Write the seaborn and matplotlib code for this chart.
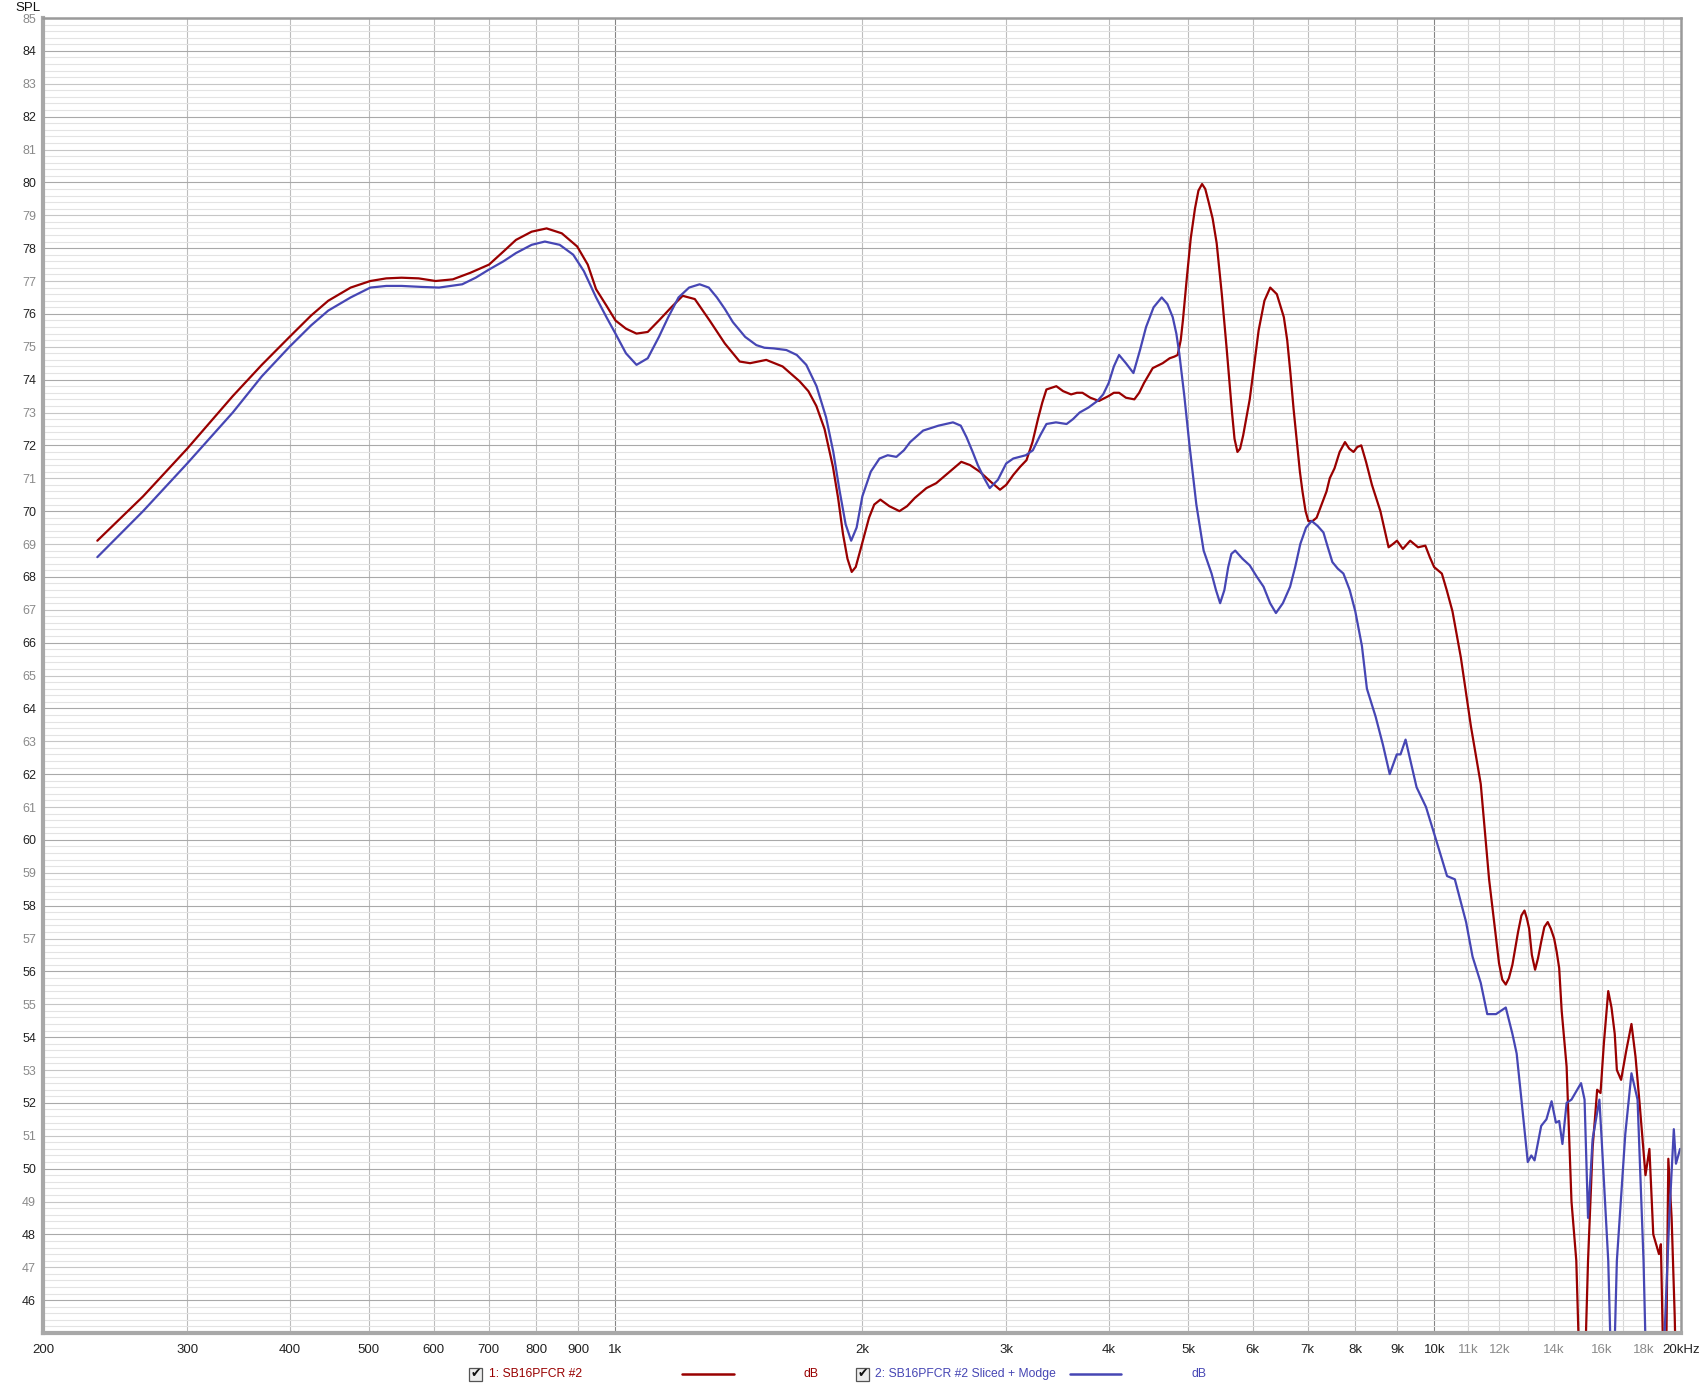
import numpy as np
import pandas as pd
import matplotlib
matplotlib.use('Agg')
import matplotlib.pyplot as plt
import seaborn as sns
from matplotlib.patches import Rectangle
from matplotlib.lines import Line2D

sns.set_style('white')
plt.rcParams['font.family'] = ['Liberation Sans', 'DejaVu Sans']

# 1: SB16PFCR #2  (red)
red_freq = [233, 265, 300, 341, 370, 400, 425, 446, 475, 502, 525, 548, 575, 603, 633, 665,
            701, 730, 756, 790, 824, 860, 898, 925, 947, 975, 1000, 1030, 1061, 1095, 1130,
            1170, 1208, 1250, 1303, 1360, 1418, 1460, 1528, 1600, 1678, 1720, 1759, 1800,
            1843, 1870, 1896, 1920, 1943, 1965, 1990, 2040, 2070, 2106, 2160, 2222, 2270,
            2320, 2397, 2464, 2560, 2644, 2710, 2785, 2870, 2948, 3000, 3060, 3120, 3176,
            3230, 3280, 3320, 3359, 3454, 3520, 3600, 3660, 3717, 3800, 3893, 4000, 4060,
            4120, 4200, 4301, 4360, 4420, 4529, 4658, 4750, 4813, 4858, 4900, 4930, 4985,
            5040, 5100, 5150, 5203, 5250, 5300, 5360, 5421, 5500, 5573, 5660, 5700, 5747,
            5790, 5840, 5890, 5949, 6020, 6100, 6200, 6302, 6420, 6548, 6610, 6670, 6730,
            6792, 6850, 6900, 6960, 7015, 7100, 7180, 7280, 7383, 7450, 7550, 7660, 7776,
            7870, 7965, 8050, 8140, 8250, 8388, 8590, 8700, 8790, 8900, 9000, 9150, 9340,
            9549, 9747, 9870, 9990, 10210, 10350, 10520, 10770, 11080, 11390, 11660, 11990,
            12100, 12220, 12330, 12450, 12650, 12770, 12880, 12970, 13050, 13150, 13270,
            13380, 13500, 13620, 13750, 13870, 14000, 14100, 14200, 14300, 14500, 14700,
            14900, 15050, 15250, 15400, 15600, 15700, 15800, 15950, 16100, 16300, 16450,
            16600, 16700, 16900, 17150, 17400, 17600, 17800, 18100, 18300, 18500, 18800,
            18900, 19050, 19200, 19300, 19480, 19650, 19750]
red_spl = [69.1, 70.45, 71.9, 73.5, 74.45, 75.3, 75.95, 76.4, 76.8, 77.0, 77.08, 77.1, 77.08,
           77.0, 77.05, 77.25, 77.5, 77.9, 78.25, 78.5, 78.6, 78.45, 78.05, 77.5, 76.75,
           76.25, 75.8, 75.55, 75.4, 75.45, 75.8, 76.2, 76.55, 76.45, 75.8, 75.1, 74.55,
           74.5, 74.6, 74.4, 73.95, 73.65, 73.2, 72.5, 71.35, 70.4, 69.3, 68.55, 68.15,
           68.3, 68.8, 69.8, 70.2, 70.35, 70.15, 70.0, 70.15, 70.4, 70.7, 70.85, 71.2, 71.5,
           71.4, 71.2, 70.9, 70.65, 70.8, 71.1, 71.35, 71.55, 72.1, 72.8, 73.3, 73.7, 73.8,
           73.65, 73.55, 73.6, 73.6, 73.45, 73.35, 73.5, 73.6, 73.6, 73.45, 73.4, 73.6,
           73.9, 74.35, 74.5, 74.65, 74.7, 74.75, 75.2, 75.8, 77.1, 78.3, 79.2, 79.75,
           79.95, 79.8, 79.4, 78.9, 78.15, 76.6, 75.0, 73.0, 72.2, 71.8, 71.9, 72.3, 72.8,
           73.4, 74.4, 75.5, 76.4, 76.8, 76.6, 75.9, 75.2, 74.2, 73.1, 72.1, 71.2, 70.6,
           70.0, 69.7, 69.7, 69.8, 70.2, 70.6, 71.0, 71.3, 71.8, 72.1, 71.9, 71.8, 71.95,
           72.0, 71.5, 70.8, 70.0, 69.4, 68.9, 69.0, 69.1, 68.85, 69.1, 68.9, 68.95, 68.6,
           68.3, 68.1, 67.6, 66.95, 65.55, 63.45, 61.7, 58.8, 56.25, 55.75, 55.6, 55.8,
           56.2, 57.2, 57.7, 57.85, 57.6, 57.3, 56.5, 56.05, 56.4, 56.9, 57.35, 57.5, 57.3,
           57.0, 56.6, 56.1, 54.8, 53.1, 49.0, 47.2, 43.5, 43.5, 47.2, 50.65, 51.5, 52.4,
           52.3, 53.8, 55.4, 54.9, 54.1, 53.0, 52.7, 53.6, 54.4, 53.4, 52.0, 49.8, 50.6,
           48.0, 47.4, 47.7, 43.5, 45.0, 50.3, 48.5, 45.5, 43.0]

# 2: SB16PFCR #2 Sliced + Modge  (blue)
blue_freq = [233, 265, 300, 341, 370, 400, 425, 446, 475, 502, 525, 548, 580, 609, 650, 675,
             701, 730, 756, 790, 820, 855, 888, 915, 947, 975, 1000, 1030, 1061, 1095, 1130,
             1160, 1194, 1230, 1267, 1300, 1330, 1360, 1391, 1440, 1486, 1520, 1560, 1617,
             1665, 1710, 1760, 1808, 1845, 1877, 1910, 1940, 1970, 2002, 2050, 2101, 2150,
             2203, 2250, 2290, 2375, 2480, 2583, 2640, 2683, 2730, 2770, 2820, 2864, 2930,
             3000, 3060, 3115, 3170, 3233, 3300, 3359, 3450, 3555, 3620, 3688, 3780, 3876,
             3940, 4002, 4060, 4120, 4200, 4290, 4370, 4445, 4540, 4645, 4720, 4791, 4840,
             4880, 4950, 5020, 5120, 5226, 5344, 5410, 5474, 5540, 5600, 5650, 5711, 5830,
             5949, 6070, 6185, 6300, 6404, 6530, 6664, 6760, 6858, 6970, 7080, 7200, 7319,
             7410, 7505, 7620, 7742, 7880, 8005, 8155, 8270, 8475, 8650, 8818, 8995, 9090,
             9220, 9510, 9765, 10060, 10360, 10590, 10930, 11130, 11390, 11600, 11890,
             12220, 12450, 12600, 12770, 13000, 13130, 13250, 13500, 13700, 13900, 14070,
             14200, 14330, 14500, 14700, 15100, 15250, 15400, 15600, 15900, 16000, 16300,
             16450, 16550, 16700, 17100, 17400, 17700, 18000, 18150, 19000, 19100, 19350,
             19600, 19720, 19950]
blue_spl = [68.6, 70.0, 71.45, 73.0, 74.1, 75.0, 75.65, 76.1, 76.5, 76.8, 76.85, 76.85, 76.82,
            76.8, 76.9, 77.1, 77.35, 77.6, 77.85, 78.1, 78.2, 78.1, 77.8, 77.3, 76.5, 75.9,
            75.4, 74.8, 74.45, 74.65, 75.3, 75.9, 76.5, 76.8, 76.9, 76.8, 76.5, 76.15, 75.75,
            75.3, 75.05, 74.97, 74.95, 74.9, 74.75, 74.45, 73.8, 72.85, 71.8, 70.65, 69.6,
            69.1, 69.5, 70.45, 71.2, 71.6, 71.7, 71.65, 71.85, 72.1, 72.45, 72.6, 72.7, 72.6,
            72.25, 71.8, 71.4, 71.0, 70.7, 70.95, 71.45, 71.6, 71.65, 71.7, 71.85, 72.3,
            72.65, 72.7, 72.65, 72.8, 73.0, 73.15, 73.35, 73.55, 73.9, 74.4, 74.75, 74.5,
            74.2, 74.9, 75.6, 76.2, 76.5, 76.3, 75.9, 75.4, 74.8, 73.5, 72.05, 70.2, 68.8,
            68.1, 67.6, 67.2, 67.6, 68.3, 68.7, 68.8, 68.55, 68.35, 68.0, 67.7, 67.2, 66.9,
            67.2, 67.7, 68.3, 69.0, 69.5, 69.7, 69.55, 69.35, 68.9, 68.45, 68.25, 68.1, 67.6,
            66.95, 65.9, 64.6, 63.75, 62.9, 62.0, 62.6, 62.6, 63.05, 61.6, 61.0, 59.95, 58.9,
            58.8, 57.5, 56.45, 55.65, 54.7, 54.7, 54.9, 54.1, 53.5, 52.1, 50.2, 50.4, 50.25,
            51.3, 51.5, 52.05, 51.4, 51.45, 50.75, 52.0, 52.1, 52.6, 52.1, 48.5, 50.9, 52.1,
            50.9, 47.2, 43.5, 43.5, 47.2, 51.05, 52.9, 52.1, 47.2, 43.5, 43.5, 45.0, 48.5,
            51.2, 50.15, 50.6]

series_names = ['1: SB16PFCR #2', '2: SB16PFCR #2 Sliced + Modge']
series_colors = ['#990000', '#4646b4']

x_ticks = [200, 300, 400, 500, 600, 700, 800, 900, 1000, 2000, 3000, 4000, 5000, 6000,
           7000, 8000, 9000, 10000, 11000, 12000, 13000, 14000, 15000, 16000, 17000,
           18000, 19000, 20000]
x_labels = ['200', '300', '400', '500', '600', '700', '800', '900', '1k', '2k', '3k', '4k',
            '5k', '6k', '7k', '8k', '9k', '10k', '11k', '12k', '', '14k', '', '16k', '',
            '18k', '', '20kHz']

df = pd.concat([
    pd.DataFrame({'freq': red_freq, 'spl': red_spl, 'series': series_names[0]}),
    pd.DataFrame({'freq': blue_freq, 'spl': blue_spl, 'series': series_names[1]}),
])

fig = plt.figure(figsize=(17.03, 13.89), dpi=100)
ax = fig.add_axes([43 / 1703, 56 / 1389, 1638 / 1703, 1315 / 1389])

ax.set_xscale('log')
ax.set_xlim(200, 20000)
ax.set_ylim(45, 85)

# grid
ax.set_yticks(np.arange(45, 86, 1))
ax.set_yticks(np.arange(45, 85.01, 0.2), minor=True)
ax.set_yticklabels([''] + [str(v) for v in range(46, 86)])
ax.set_xticks(x_ticks)
ax.set_xticklabels(x_labels)
ax.xaxis.set_minor_locator(matplotlib.ticker.NullLocator())
ax.grid(True, which='major', linewidth=0.8)
ax.grid(True, which='minor', axis='y', color='#e3e3e3', linewidth=0.8)
ax.set_axisbelow(True)

for v, gl in zip(range(45, 86), ax.get_ygridlines()):
    gl.set_color('#a9a9a9' if v % 2 == 0 else '#c6c6c6')
for f, gl in zip(x_ticks, ax.get_xgridlines()):
    if f in (1000, 10000):
        gl.set_color('#858585')
    elif f > 10000:
        gl.set_color('#d6d6d6')
    else:
        gl.set_color('#bdbdbd')

sns.lineplot(data=df, x='freq', y='spl', hue='series', palette=series_colors,
             estimator=None, linewidth=1.6, legend=False, ax=ax)

ax.set_xlabel('')
ax.set_ylabel('')
ax.tick_params(axis='x', length=0, pad=8, labelsize=9.5)
ax.tick_params(axis='y', length=3, width=0.8, color='#909090', pad=2, labelsize=9)
for v, lab in zip(range(45, 86), ax.get_yticklabels()):
    lab.set_color('#222222' if v % 2 == 0 else '#8a8a8a')
for lab, txt in zip(ax.get_xticklabels(), x_labels):
    lab.set_color('#8a8a8a' if txt in ('11k', '12k', '14k', '16k', '18k') else '#222222')

for side in ['top', 'right']:
    ax.spines[side].set_color('#9a9a9a')
    ax.spines[side].set_linewidth(1.8)
for side in ['left', 'bottom']:
    ax.spines[side].set_color('#a8a8a8')
    ax.spines[side].set_linewidth(3)

fig.text(15 / 1703, 1 - 2 / 1389, 'SPL', ha='left', va='top', fontsize=9.5, color='#111111')

# legend row at the bottom
ly = 1 - 1374 / 1389
def checkbox(x0):
    w, h = 13 / 1703, 13 / 1389
    fig.add_artist(Rectangle((x0, ly - h / 2), w, h, transform=fig.transFigure,
                             facecolor='#ececec', edgecolor='#555555', linewidth=0.9))
    fig.text(x0 + w / 2, ly, '\u2714', ha='center', va='center', fontsize=9,
             color='#111111', family=['DejaVu Sans'])

checkbox(469 / 1703)
fig.text(489 / 1703, ly, series_names[0], ha='left', va='center', fontsize=8.7,
         color=series_colors[0])
fig.add_artist(Line2D([682 / 1703, 734 / 1703], [ly, ly], transform=fig.transFigure,
                      color=series_colors[0], linewidth=1.8))
fig.text(804 / 1703, ly, 'dB', ha='left', va='center', fontsize=8.7, color=series_colors[0])

checkbox(856 / 1703)
fig.text(875 / 1703, ly, series_names[1], ha='left', va='center', fontsize=8.7,
         color=series_colors[1])
fig.add_artist(Line2D([1070 / 1703, 1121 / 1703], [ly, ly], transform=fig.transFigure,
                      color=series_colors[1], linewidth=1.8))
fig.text(1191 / 1703, ly, 'dB', ha='left', va='center', fontsize=8.7, color=series_colors[1])

fig.savefig('out.png', dpi=100, facecolor='white')
